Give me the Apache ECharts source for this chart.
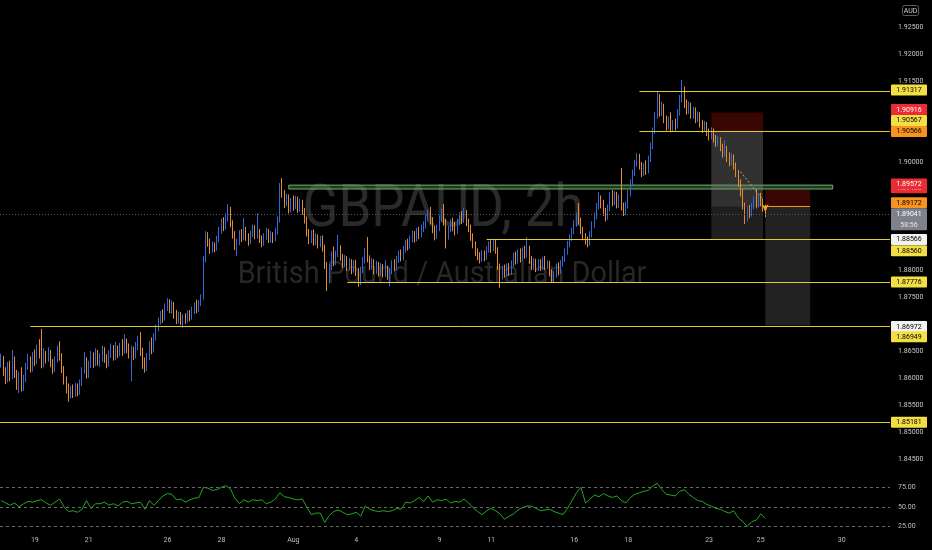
<!DOCTYPE html>
<html><head><meta charset="utf-8">
<script src="https://cdn.jsdelivr.net/npm/echarts@6/dist/echarts.min.js"></script>
<style>html,body{margin:0;padding:0;background:#000;}#c{width:932px;height:550px;}</style>
</head><body><div id="c"></div>
<script>
// ---- DATA ----
const TOTAL_BARS = 396; // visible 2h slots incl. empty future space
// 2h candles: [open, close, low, high]
const ohlc = [
[1.8628,1.8636,1.8619,1.8645],[1.8636,1.8612,1.8604,1.8641],[1.8612,1.8597,1.8589,1.8620],[1.8597,1.8623,1.8592,1.8630],[1.8623,1.8601,1.8594,1.8632],[1.8601,1.8634,1.8598,1.8652],[1.8634,1.8608,1.8600,1.8640],[1.8608,1.8588,1.8578,1.8615],[1.8588,1.8605,1.8572,1.8612],[1.8605,1.8583,1.8575,1.8620],
[1.8583,1.8598,1.8576,1.8606],[1.8598,1.8621,1.8592,1.8628],[1.8621,1.8632,1.8615,1.8645],[1.8632,1.8618,1.8610,1.8640],[1.8618,1.8640,1.8612,1.8648],[1.8640,1.8631,1.8622,1.8653],[1.8631,1.8650,1.8626,1.8662],[1.8650,1.8645,1.8636,1.8672],[1.8645,1.8628,1.8618,1.8691],[1.8628,1.8642,1.8620,1.8655],
[1.8642,1.8636,1.8627,1.8650],[1.8636,1.8648,1.8630,1.8657],[1.8648,1.8628,1.8620,1.8652],[1.8628,1.8616,1.8608,1.8635],[1.8616,1.8633,1.8611,1.8640],[1.8633,1.8652,1.8629,1.8660],[1.8652,1.8641,1.8632,1.8668],[1.8641,1.8617,1.8609,1.8646],[1.8617,1.8597,1.8588,1.8622],[1.8597,1.8582,1.8571,1.8603],
[1.8582,1.8568,1.8556,1.8590],[1.8568,1.8579,1.8562,1.8586],[1.8579,1.8570,1.8563,1.8588],[1.8570,1.8584,1.8565,1.8591],[1.8584,1.8574,1.8566,1.8590],[1.8574,1.8590,1.8569,1.8597],[1.8590,1.8614,1.8585,1.8620],[1.8614,1.8632,1.8608,1.8648],[1.8632,1.8608,1.8599,1.8638],[1.8608,1.8625,1.8600,1.8632],
[1.8625,1.8641,1.8618,1.8650],[1.8641,1.8627,1.8619,1.8647],[1.8627,1.8645,1.8622,1.8655],[1.8645,1.8630,1.8623,1.8652],[1.8630,1.8638,1.8621,1.8646],[1.8638,1.8652,1.8630,1.8660],[1.8652,1.8636,1.8628,1.8657],[1.8636,1.8627,1.8618,1.8644],[1.8627,1.8644,1.8621,1.8651],[1.8644,1.8655,1.8637,1.8664],
[1.8655,1.8640,1.8632,1.8661],[1.8640,1.8652,1.8633,1.8667],[1.8652,1.8646,1.8637,1.8660],[1.8646,1.8659,1.8640,1.8665],[1.8659,1.8650,1.8641,1.8672],[1.8650,1.8664,1.8645,1.8681],[1.8664,1.8655,1.8646,1.8673],[1.8655,1.8646,1.8636,1.8664],[1.8646,1.8652,1.8594,1.8660],[1.8652,1.8641,1.8633,1.8658],
[1.8641,1.8660,1.8636,1.8667],[1.8660,1.8672,1.8651,1.8678],[1.8672,1.8650,1.8641,1.8685],[1.8650,1.8628,1.8617,1.8656],[1.8628,1.8619,1.8610,1.8638],[1.8619,1.8640,1.8613,1.8646],[1.8640,1.8661,1.8633,1.8668],[1.8661,1.8652,1.8644,1.8675],[1.8652,1.8676,1.8647,1.8683],[1.8676,1.8692,1.8669,1.8699],
[1.8692,1.8705,1.8686,1.8712],[1.8705,1.8718,1.8699,1.8724],[1.8718,1.8710,1.8702,1.8727],[1.8710,1.8731,1.8706,1.8738],[1.8731,1.8740,1.8724,1.8748],[1.8740,1.8728,1.8720,1.8746],[1.8728,1.8736,1.8719,1.8744],[1.8736,1.8718,1.8710,1.8741],[1.8718,1.8708,1.8700,1.8726],[1.8708,1.8717,1.8701,1.8723],
[1.8717,1.8705,1.8698,1.8722],[1.8705,1.8712,1.8693,1.8718],[1.8712,1.8708,1.8700,1.8720],[1.8708,1.8719,1.8703,1.8725],[1.8719,1.8712,1.8705,1.8726],[1.8712,1.8726,1.8708,1.8732],[1.8726,1.8733,1.8718,1.8740],[1.8733,1.8727,1.8720,1.8745],[1.8727,1.8738,1.8722,1.8744],[1.8738,1.8748,1.8733,1.8755],
[1.8748,1.8820,1.8745,1.8826],[1.8820,1.8862,1.8814,1.8872],[1.8862,1.8851,1.8843,1.8870],[1.8851,1.8838,1.8830,1.8858],[1.8838,1.8846,1.8832,1.8853],[1.8846,1.8840,1.8833,1.8851],[1.8840,1.8857,1.8836,1.8863],[1.8857,1.8873,1.8851,1.8880],[1.8873,1.8889,1.8867,1.8895],[1.8889,1.8880,1.8872,1.8898],
[1.8880,1.8898,1.8875,1.8905],[1.8898,1.8908,1.8890,1.8922],[1.8908,1.8886,1.8879,1.8917],[1.8886,1.8866,1.8858,1.8892],[1.8866,1.8845,1.8837,1.8872],[1.8845,1.8852,1.8826,1.8858],[1.8852,1.8868,1.8846,1.8874],[1.8868,1.8860,1.8852,1.8876],[1.8860,1.8875,1.8855,1.8896],[1.8875,1.8862,1.8854,1.8880],
[1.8862,1.8853,1.8845,1.8868],[1.8853,1.8867,1.8848,1.8873],[1.8867,1.8878,1.8861,1.8884],[1.8878,1.8864,1.8857,1.8883],[1.8864,1.8870,1.8858,1.8905],[1.8870,1.8858,1.8850,1.8876],[1.8858,1.8849,1.8842,1.8864],[1.8849,1.8862,1.8845,1.8868],[1.8862,1.8871,1.8856,1.8878],[1.8871,1.8857,1.8850,1.8876],
[1.8857,1.8866,1.8851,1.8872],[1.8866,1.8858,1.8850,1.8870],[1.8858,1.8872,1.8853,1.8878],[1.8872,1.8893,1.8866,1.8899],[1.8893,1.8955,1.8888,1.8961],[1.8955,1.8942,1.8934,1.8970],[1.8942,1.8924,1.8915,1.8948],[1.8924,1.8935,1.8918,1.8941],[1.8935,1.8912,1.8905,1.8940],[1.8912,1.8926,1.8907,1.8933],
[1.8926,1.8918,1.8910,1.8938],[1.8918,1.8931,1.8913,1.8937],[1.8931,1.8915,1.8906,1.8936],[1.8915,1.8924,1.8908,1.8932],[1.8924,1.8910,1.8902,1.8930],[1.8910,1.8894,1.8886,1.8915],[1.8894,1.8870,1.8862,1.8899],[1.8870,1.8856,1.8848,1.8876],[1.8856,1.8868,1.8850,1.8874],[1.8868,1.8852,1.8845,1.8875],
[1.8852,1.8862,1.8846,1.8868],[1.8862,1.8848,1.8840,1.8866],[1.8848,1.8857,1.8842,1.8863],[1.8857,1.8842,1.8834,1.8864],[1.8842,1.8810,1.8802,1.8847],[1.8810,1.8782,1.8761,1.8815],[1.8782,1.8806,1.8775,1.8812],[1.8806,1.8828,1.8800,1.8834],[1.8828,1.8815,1.8807,1.8843],[1.8815,1.8830,1.8809,1.8836],
[1.8830,1.8842,1.8824,1.8865],[1.8842,1.8825,1.8817,1.8846],[1.8825,1.8812,1.8804,1.8830],[1.8812,1.8821,1.8805,1.8828],[1.8821,1.8806,1.8798,1.8826],[1.8806,1.8815,1.8799,1.8822],[1.8815,1.8800,1.8792,1.8820],[1.8800,1.8812,1.8795,1.8818],[1.8812,1.8797,1.8789,1.8819],[1.8797,1.8786,1.8769,1.8803],
[1.8786,1.8800,1.8772,1.8806],[1.8800,1.8818,1.8794,1.8824],[1.8818,1.8835,1.8812,1.8841],[1.8835,1.8822,1.8814,1.8861],[1.8822,1.8808,1.8800,1.8827],[1.8808,1.8815,1.8801,1.8822],[1.8815,1.8800,1.8792,1.8820],[1.8800,1.8810,1.8793,1.8817],[1.8810,1.8796,1.8788,1.8815],[1.8796,1.8806,1.8789,1.8813],
[1.8806,1.8794,1.8786,1.8811],[1.8794,1.8802,1.8787,1.8818],[1.8802,1.8790,1.8782,1.8808],[1.8790,1.8798,1.8770,1.8804],[1.8798,1.8812,1.8792,1.8818],[1.8812,1.8806,1.8798,1.8820],[1.8806,1.8820,1.8800,1.8826],[1.8820,1.8830,1.8813,1.8836],[1.8830,1.8824,1.8816,1.8838],[1.8824,1.8838,1.8818,1.8845],
[1.8838,1.8850,1.8832,1.8856],[1.8850,1.8844,1.8836,1.8858],[1.8844,1.8858,1.8839,1.8864],[1.8858,1.8866,1.8851,1.8873],[1.8866,1.8859,1.8851,1.8872],[1.8859,1.8872,1.8853,1.8878],[1.8872,1.8865,1.8857,1.8880],[1.8865,1.8878,1.8860,1.8884],[1.8878,1.8884,1.8870,1.8890],[1.8884,1.8898,1.8877,1.8903],
[1.8898,1.8906,1.8890,1.8912],[1.8906,1.8893,1.8885,1.8917],[1.8893,1.8876,1.8868,1.8898],[1.8876,1.8862,1.8855,1.8882],[1.8862,1.8878,1.8857,1.8884],[1.8878,1.8895,1.8872,1.8901],[1.8895,1.8908,1.8889,1.8914],[1.8908,1.8890,1.8882,1.8922],[1.8890,1.8862,1.8840,1.8895],[1.8862,1.8876,1.8856,1.8882],
[1.8876,1.8888,1.8870,1.8894],[1.8888,1.8880,1.8872,1.8897],[1.8880,1.8872,1.8864,1.8889],[1.8872,1.8889,1.8867,1.8895],[1.8889,1.8900,1.8883,1.8907],[1.8900,1.8893,1.8885,1.8909],[1.8893,1.8905,1.8887,1.8915],[1.8905,1.8889,1.8881,1.8911],[1.8889,1.8878,1.8870,1.8895],[1.8878,1.8862,1.8854,1.8884],
[1.8862,1.8848,1.8840,1.8868],[1.8848,1.8834,1.8826,1.8853],[1.8834,1.8826,1.8818,1.8840],[1.8826,1.8820,1.8812,1.8833],[1.8820,1.8831,1.8815,1.8837],[1.8831,1.8824,1.8816,1.8836],[1.8824,1.8838,1.8819,1.8844],[1.8838,1.8847,1.8832,1.8853],[1.8847,1.8840,1.8832,1.8855],[1.8840,1.8852,1.8835,1.8858],
[1.8852,1.8838,1.8830,1.8857],[1.8838,1.8808,1.8800,1.8842],[1.8808,1.8790,1.8767,1.8812],[1.8790,1.8802,1.8783,1.8808],[1.8802,1.8794,1.8786,1.8810],[1.8794,1.8806,1.8788,1.8812],[1.8806,1.8797,1.8789,1.8813],[1.8797,1.8812,1.8791,1.8818],[1.8812,1.8826,1.8806,1.8832],[1.8826,1.8818,1.8810,1.8834],
[1.8818,1.8832,1.8812,1.8838],[1.8832,1.8822,1.8814,1.8840],[1.8822,1.8836,1.8817,1.8842],[1.8836,1.8829,1.8821,1.8845],[1.8829,1.8840,1.8823,1.8861],[1.8840,1.8820,1.8812,1.8845],[1.8820,1.8808,1.8800,1.8826],[1.8808,1.8816,1.8801,1.8822],[1.8816,1.8804,1.8796,1.8821],[1.8804,1.8814,1.8798,1.8820],
[1.8814,1.8806,1.8798,1.8820],[1.8806,1.8818,1.8800,1.8824],[1.8818,1.8808,1.8800,1.8826],[1.8808,1.8812,1.8802,1.8818],[1.8812,1.8796,1.8788,1.8817],[1.8796,1.8784,1.8778,1.8801],[1.8784,1.8792,1.8776,1.8798],[1.8792,1.8806,1.8786,1.8812],[1.8806,1.8798,1.8790,1.8814],[1.8798,1.8812,1.8793,1.8818],
[1.8812,1.8820,1.8806,1.8826],[1.8820,1.8834,1.8815,1.8840],[1.8834,1.8848,1.8828,1.8854],[1.8848,1.8860,1.8842,1.8866],[1.8860,1.8872,1.8854,1.8878],[1.8872,1.8886,1.8866,1.8892],[1.8886,1.8900,1.8880,1.8906],[1.8900,1.8892,1.8884,1.8924],[1.8892,1.8874,1.8866,1.8897],[1.8874,1.8862,1.8855,1.8880],
[1.8862,1.8855,1.8847,1.8868],[1.8855,1.8850,1.8842,1.8862],[1.8850,1.8866,1.8845,1.8872],[1.8866,1.8884,1.8860,1.8890],[1.8884,1.8900,1.8878,1.8906],[1.8900,1.8918,1.8894,1.8924],[1.8918,1.8932,1.8912,1.8944],[1.8932,1.8922,1.8914,1.8938],[1.8922,1.8908,1.8900,1.8930],[1.8908,1.8898,1.8890,1.8915],
[1.8898,1.8915,1.8893,1.8921],[1.8915,1.8938,1.8909,1.8944],[1.8938,1.8926,1.8918,1.8948],[1.8926,1.8940,1.8920,1.8946],[1.8940,1.8922,1.8914,1.8945],[1.8922,1.8932,1.8915,1.8940],[1.8932,1.8918,1.8910,1.8989],[1.8918,1.8908,1.8900,1.8925],[1.8908,1.8920,1.8902,1.8927],[1.8920,1.8942,1.8914,1.8948],
[1.8942,1.8962,1.8936,1.8968],[1.8962,1.8980,1.8956,1.8986],[1.8980,1.8998,1.8974,1.9004],[1.8998,1.9010,1.8991,1.9016],[1.9010,1.8994,1.8986,1.9015],[1.8994,1.8980,1.8972,1.9000],[1.8980,1.8992,1.8974,1.8998],[1.8992,1.8984,1.8976,1.9003],[1.8984,1.9006,1.8979,1.9012],[1.9006,1.9030,1.9000,1.9036],
[1.9030,1.9058,1.9024,1.9064],[1.9058,1.9086,1.9052,1.9092],[1.9086,1.9110,1.9080,1.9132],[1.9110,1.9092,1.9084,1.9126],[1.9092,1.9102,1.9085,1.9112],[1.9102,1.9080,1.9072,1.9108],[1.9080,1.9066,1.9058,1.9086],[1.9066,1.9078,1.9060,1.9084],[1.9078,1.9064,1.9055,1.9092],[1.9064,1.9072,1.9056,1.9078],
[1.9072,1.9068,1.9058,1.9080],[1.9068,1.9092,1.9062,1.9098],[1.9092,1.9118,1.9086,1.9124],[1.9118,1.9128,1.9110,1.9152],[1.9128,1.9108,1.9100,1.9140],[1.9108,1.9096,1.9088,1.9116],[1.9096,1.9104,1.9089,1.9112],[1.9104,1.9088,1.9080,1.9110],[1.9088,1.9096,1.9080,1.9102],[1.9096,1.9080,1.9072,1.9101],
[1.9080,1.9088,1.9074,1.9094],[1.9088,1.9072,1.9064,1.9092],[1.9072,1.9062,1.9054,1.9078],[1.9062,1.9070,1.9056,1.9076],[1.9070,1.9056,1.9048,1.9074],[1.9056,1.9048,1.9040,1.9062],[1.9048,1.9058,1.9042,1.9064],[1.9058,1.9044,1.9036,1.9062],[1.9044,1.9036,1.9028,1.9050],[1.9036,1.9042,1.9030,1.9048],
[1.9042,1.9028,1.9020,1.9046],[1.9028,1.9016,1.9008,1.9034],[1.9016,1.9024,1.9010,1.9040],[1.9024,1.9008,1.9000,1.9030],[1.9008,1.9000,1.8992,1.9018],[1.9000,1.9010,1.8994,1.9016],[1.9010,1.8994,1.8986,1.9014],[1.8994,1.8980,1.8972,1.8999],[1.8980,1.8962,1.8954,1.8985],[1.8962,1.8944,1.8936,1.8968],
[1.8944,1.8920,1.8912,1.8950],[1.8920,1.8898,1.8885,1.8925],[1.8898,1.8912,1.8890,1.8918],[1.8912,1.8904,1.8896,1.8920],[1.8904,1.8918,1.8899,1.8924],[1.8918,1.8930,1.8912,1.8936],[1.8930,1.8922,1.8914,1.8950],[1.8922,1.8934,1.8916,1.8940],[1.8934,1.8926,1.8918,1.8943],[1.8926,1.8916,1.8908,1.8932],
[1.8916,1.8904,1.8898,1.8921]
];
// RSI read every second bar (bar 0, 2, 4 ...)
const rsiEvery2 = [
58,55,52,55,50,54,57,56,58,59,
55,52,56,60,50,44,45,43,47,58,
48,54,54,56,52,54,51,56,57,54,
55,56,47,58,52,58,64,67,66,59,
60,56,59,61,62,75,74,71,72,75,
77,73,61,54,59,56,59,58,59,54,
56,60,68,63,62,60,59,60,50,40,
42,42,30,39,44,46,43,40,41,43,
38,51,47,45,44,45,44,45,48,47,
56,55,58,62,57,64,56,59,58,60,
55,57,56,60,55,49,44,40,45,48,
45,41,34,38,41,46,49,51,51,48,
45,46,47,44,42,40,48,58,68,75,
55,60,65,63,67,64,62,64,58,55,
62,66,68,70,71,77,80,72,66,65,
64,70,72,66,62,58,57,53,51,48,
47,44,42,45,36,31,25,31,33,41,
35
];
// time-axis labels: [bar index, text]
const dayTicks = [[15,'19'],[39,'21'],[74,'26'],[98,'28'],[130,'Aug'],[158,'4'],[195,'9'],[218,'11'],[255,'16'],[279,'18'],[315,'23'],[338,'25'],[374,'30']];
const priceTickHidden = [1.93,1.91,1.905,1.895,1.89,1.885,1.87,1.84];
const rsiLevels = [75,50,25];
// drawn horizontal levels: [price, first bar]
const levels = [[1.91317,284],[1.90566,284],[1.88566,216],[1.87776,154],[1.86972,13],[1.85181,0]];
const lastPrice = 1.89041;
const countdown = '58:56';
const zone = {top:1.89572, bottom:1.8950, from:128, to:370};
const pos1 = {from:316, to:339, stop:1.90916, entry:1.90567, mid:1.89172, target:1.88560};
const pos2 = {from:340, to:360, stop:1.8948, entry:1.89172, target:1.86972};
const trend = [[329,1.8982],[339,1.8930]];
const arrowAt = [340,1.8907];
// right-side price tags: [price, text]
const tagPrices = [
  [1.91317,'1.91317'],[1.90916,'1.90916'],[1.90567,'1.90567'],[1.90566,'1.90566'],
  [1.8948,'1.89480'],[1.89572,'1.89572'],[1.89172,'1.89172'],
  [1.88566,'1.88566'],[1.88560,'1.88560'],[1.87776,'1.87776'],
  [1.86972,'1.86972'],[1.86949,'1.86949'],[1.85181,'1.85181']
];

// ---- STYLE ----
const YEL='#f3df45', RED='#ec2c35', ORG='#f7931e', WHT='#f2f2f2';
const tagStyle = [ // bg, fg, vertical nudge(px)
  [YEL,'#000',-1],[RED,'#fff',-3],[YEL,'#000',-11],[ORG,'#000',0],
  [RED,'#fff',-2.4],[RED,'#fff',-1],[ORG,'#000',-4],
  [WHT,'#000',0],[YEL,'#000',11],[YEL,'#000',0],
  [WHT,'#000',1],[YEL,'#000',10],[YEL,'#000',0]
];
const UP='#3167d6', DOWN='#e88b2b', LEVEL='#e2cc2a';
const FONT='Roboto';

const categories = Array.from({length:TOTAL_BARS},(_,i)=>String(i));
const tickMap = {}; dayTicks.forEach(([i,t])=>tickMap[i]=t);
const rsiFull = new Array(TOTAL_BARS).fill(null);
rsiEvery2.forEach((v,k)=>{ rsiFull[2*k]=v; });
const isHidden = v => priceTickHidden.some(h=>Math.abs(h-v)<1e-7);
const C = i => String(i);

const chart = echarts.init(document.getElementById('c'), null, {renderer:'canvas'});
const option = {
  backgroundColor:'#000',
  animation:false,
  grid:[
    {left:0,right:42,top:0,height:486,outerBoundsMode:'none'},
    {left:0,right:42,top:476,height:57,outerBoundsMode:'none'}
  ],
  xAxis:[
    {type:'category',gridIndex:0,data:categories,boundaryGap:true,axisLine:{show:false},axisTick:{show:false},axisLabel:{show:false},splitLine:{show:false}},
    {type:'category',gridIndex:1,data:categories,boundaryGap:true,axisLine:{show:false},axisTick:{show:false},splitLine:{show:false},
      axisLabel:{interval:(i)=>tickMap[i]!==undefined, formatter:(v,i)=>tickMap[i]||'', color:'#bfbfbf', fontSize:7, fontFamily:FONT, margin:4}}
  ],
  yAxis:[
    {type:'value',gridIndex:0,position:'right',min:1.84,max:1.93,interval:0.005,axisLine:{show:false},axisTick:{show:false},splitLine:{show:false},
      axisLabel:{color:'#c8c8c8',fontSize:7,fontFamily:FONT,margin:8,formatter:v=>isHidden(v)?'':v.toFixed(5)}},
    {type:'value',gridIndex:1,position:'right',min:16.5,max:89.5,axisLine:{show:false},axisTick:{show:false},splitLine:{show:false},axisLabel:{show:false}}
  ],
  series:[
    {
      type:'candlestick', xAxisIndex:0, yAxisIndex:0, data:ohlc, barWidth:'55%',
      itemStyle:{color:UP,color0:DOWN,borderColor:UP,borderColor0:DOWN,borderWidth:1},
      markArea:{silent:true, data:[
        [{coord:[C(zone.from),zone.top],itemStyle:{color:'rgba(90,170,90,0.35)',borderColor:'#6fae6f',borderWidth:1}},{coord:[C(zone.to),zone.bottom]}],
        [{coord:[C(pos1.from),pos1.stop],itemStyle:{color:'rgba(200,20,10,0.28)'}},{coord:[C(pos1.to),pos1.entry]}],
        [{coord:[C(pos1.from),pos1.entry],itemStyle:{color:'rgba(130,130,130,0.38)'}},{coord:[C(pos1.to),pos1.mid]}],
        [{coord:[C(pos1.from),pos1.mid],itemStyle:{color:'rgba(130,130,130,0.24)'}},{coord:[C(pos1.to),pos1.target]}],
        [{coord:[C(pos2.from),pos2.stop],itemStyle:{color:'rgba(200,20,10,0.28)'}},{coord:[C(pos2.to),pos2.entry]}],
        [{coord:[C(pos2.from),pos2.entry],itemStyle:{color:'rgba(130,130,130,0.26)'}},{coord:[C(pos2.to),pos2.target]}]
      ]},
      markLine:{silent:true, precision:5, symbol:['none','none'], label:{show:false},
        data:[
          {yAxis:lastPrice, lineStyle:{color:'#55585f',type:[1,2],width:1}},
          [{coord:[C(pos2.from),pos2.entry],lineStyle:{color:ORG,width:1,type:'solid'}},{coord:[C(pos2.to),pos2.entry]}],
          [{coord:[C(trend[0][0]),trend[0][1]],lineStyle:{color:'#a9b85c',type:[2,2],width:1}},{coord:[C(trend[1][0]),trend[1][1]]}]
        ]},
      markPoint:{silent:true, label:{show:false}, data:[
        {coord:[C(arrowAt[0]),arrowAt[1]], symbol:'arrow', symbolSize:[5,8], symbolRotate:180, itemStyle:{color:'#f0a030'}}
      ]}
    },
    {
      type:'line', xAxisIndex:1, yAxisIndex:1, data:rsiFull, connectNulls:true, symbol:'none',
      lineStyle:{color:'#22a822',width:1},
      markLine:{silent:true, symbol:['none','none'], lineStyle:{color:'#6a6a6a',type:[3,3],width:1},
        label:{show:true,position:'end',distance:8,color:'#bfbfbf',fontSize:7,fontFamily:FONT,formatter:p=>Number(p.value).toFixed(2)},
        data:rsiLevels.map(v=>({yAxis:v}))}
    }
  ]
};
chart.setOption(option);

// overlays positioned through the chart's own scale
const yPix = p => chart.convertToPixel({yAxisIndex:0}, p);
const xPix = i => chart.convertToPixel({xAxisIndex:0}, C(i));
const gx = 890;
const graphics = [
  {type:'text', x:443, y:211, scaleX:0.88, z:0, silent:true,
    style:{text:'GBPAUD, 2h', font:'60px '+FONT, fill:'#2a2a2a', align:'center', verticalAlign:'middle', textAlign:'center', textVerticalAlign:'middle'}},
  {type:'text', x:442, y:275, scaleX:0.9, z:0, silent:true,
    style:{text:'British Pound / Australian Dollar', font:'32px '+FONT, fill:'#272727', align:'center', verticalAlign:'middle', textAlign:'center', textVerticalAlign:'middle'}},
  {type:'rect', z:60, shape:{x:902.5,y:5.5,width:16,height:10,r:2}, style:{fill:'none',stroke:'#5c5c5c',lineWidth:1}},
  {type:'text', z:61, x:910.5, y:10.8, style:{text:'AUD', font:'7px '+FONT, fill:'#cfcfcf', align:'center', verticalAlign:'middle', textAlign:'center', textVerticalAlign:'middle'}}
];
// horizontal level lines, snapped to the pixel grid
levels.forEach(([p,f])=>{
  const y = Math.round(yPix(p)) + 0.5;
  const x1 = f === 0 ? 0 : xPix(f);
  graphics.push({type:'line', z:5, silent:true, shape:{x1:x1,y1:y,x2:gx,y2:y}, style:{stroke:LEVEL,lineWidth:1}});
});
tagPrices.forEach(([p,t],i)=>{
  const [bg,fg,n] = tagStyle[i];
  const y = yPix(p)+n;
  const z = 60 + i*2;
  graphics.push({type:'rect', z:z, shape:{x:gx+1,y:y-5.5,width:36,height:11,r:1}, style:{fill:bg}});
  graphics.push({type:'text', z:z+1, x:gx+19, y:y+0.3, style:{text:t, font:'7px '+FONT, fill:fg, align:'center', verticalAlign:'middle', textAlign:'center', textVerticalAlign:'middle'}});
});
const ly = yPix(lastPrice);
graphics.push({type:'rect', z:100, shape:{x:gx+1,y:ly-5.5,width:36,height:22,r:1}, style:{fill:'#7e818b'}});
graphics.push({type:'text', z:101, x:gx+19, y:ly+0.3, style:{text:lastPrice.toFixed(5), font:'7px '+FONT, fill:'#fff', align:'center', verticalAlign:'middle', textAlign:'center', textVerticalAlign:'middle'}});
graphics.push({type:'text', z:101, x:gx+19, y:ly+11, style:{text:countdown, font:'7px '+FONT, fill:'#e6e6e6', align:'center', verticalAlign:'middle', textAlign:'center', textVerticalAlign:'middle'}});
chart.setOption({graphic:graphics});
</script>
</body></html>
